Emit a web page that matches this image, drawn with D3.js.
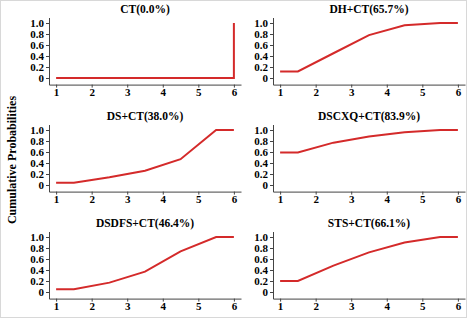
<!DOCTYPE html>
<html>
<head>
<meta charset="utf-8">
<script src="https://cdn.jsdelivr.net/npm/d3@7"></script>
<style>
  html, body { margin: 0; padding: 0; background: #fff; }
  svg text { font-family: "Liberation Serif", "Times New Roman", serif; font-weight: bold; fill: #000; }
</style>
</head>
<body>
<div id="chart"></div>
<script>
// panel titles, in reading order (left→right, top→bottom)
var titles = ["CT(0.0%)", "DH+CT(65.7%)", "DS+CT(38.0%)", "DSCXQ+CT(83.9%)", "DSDFS+CT(46.4%)", "STS+CT(66.1%)"];

// x positions of the plotted points (ranks)
var ranks = [1, 1.5, 2.5, 3.5, 4.5, 5.5, 6];
var ctRanks = [1, 6, 6];

// cumulative probabilities
var ct    = [0, 0, 1];
var dh    = [0.12, 0.12, 0.45, 0.78, 0.96, 1.0, 1.0];
var ds    = [0.04, 0.04, 0.14, 0.26, 0.47, 1.0, 1.0];
var dscxq = [0.59, 0.59, 0.77, 0.88, 0.96, 1.0, 1.0];
var dsdfs = [0.05, 0.05, 0.17, 0.37, 0.74, 1.0, 1.0];
var sts   = [0.20, 0.20, 0.48, 0.72, 0.90, 1.0, 1.0];

var xTicks = [1, 2, 3, 4, 5, 6];
var yTicks = [0, 0.2, 0.4, 0.6, 0.8, 1.0];

var panels = [
  { title: titles[0], xs: ctRanks, ys: ct },
  { title: titles[1], xs: ranks, ys: dh },
  { title: titles[2], xs: ranks, ys: ds },
  { title: titles[3], xs: ranks, ys: dscxq },
  { title: titles[4], xs: ranks, ys: dsdfs },
  { title: titles[5], xs: ranks, ys: sts }
];

var w = 467, h = 318;
var colStep = 224, rowStep = 107;

var svg = d3.select("#chart").append("svg")
  .attr("width", w)
  .attr("height", h);

svg.append("rect")
  .attr("x", 0.5).attr("y", 0.5)
  .attr("width", w - 1).attr("height", h - 1)
  .attr("fill", "#fff")
  .attr("stroke", "#d8d8d8");

// shared y-axis title
svg.append("text")
  .attr("transform", "translate(16,160) rotate(-90)")
  .attr("text-anchor", "middle")
  .style("font-size", "12px")
  .text("Cumulative Probabilities");

var line = d3.line()
  .x(function (d) { return d[0]; })
  .y(function (d) { return d[1]; });

panels.forEach(function (p, i) {
  var col = i % 2, row = Math.floor(i / 2);

  var x = d3.scaleLinear()
    .domain([0.8, 6.2])
    .range([49 + col * colStep, 241 + col * colStep]);

  var y = d3.scaleLinear()
    .domain([-0.12, 1.1])
    .range([84.6 + row * rowStep, 17.5 + row * rowStep]);

  var g = svg.append("g");

  var xAxis = g.append("g")
    .attr("transform", "translate(0," + y(-0.12) + ")")
    .call(d3.axisBottom(x).tickValues(xTicks).tickSize(3).tickSizeOuter(0).tickFormat(d3.format("d")));

  var yAxis = g.append("g")
    .attr("transform", "translate(" + x(0.8) + ",0)")
    .call(d3.axisLeft(y).tickValues(yTicks).tickSize(3).tickSizeOuter(0)
      .tickFormat(function (d) { return d === 0 ? "0" : d3.format(".1f")(d); }));

  [xAxis, yAxis].forEach(function (a) {
    a.select(".domain").attr("stroke", "#444");
    a.selectAll(".tick line").attr("stroke", "#444");
    a.selectAll(".tick text")
      .style("font-size", "11px")
      .style("font-family", "'Liberation Serif', serif")
      .style("font-weight", "bold")
      .attr("fill", "#000");
  });
  xAxis.selectAll(".tick text").attr("dy", "0.75em").attr("y", 3);
  yAxis.selectAll(".tick text").attr("x", -5);

  g.append("text")
    .attr("x", (x(1) + x(6)) / 2)
    .attr("y", y(1.1) - 4.5)
    .attr("text-anchor", "middle")
    .style("font-size", "11.5px")
    .text(p.title);

  var pts = p.xs.map(function (v, k) { return [x(v), y(p.ys[k])]; });
  g.append("path")
    .attr("d", line(pts))
    .attr("fill", "none")
    .attr("stroke", "#d42a2a")
    .attr("stroke-width", 2);
});
</script>
</body>
</html>
